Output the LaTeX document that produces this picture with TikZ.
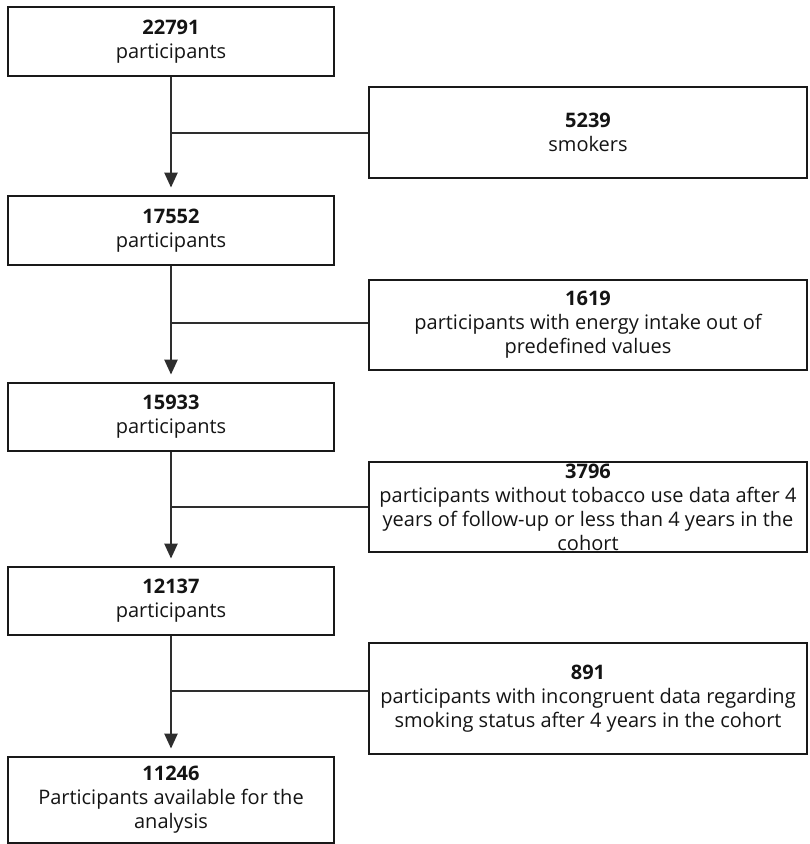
\documentclass[tikz,border=0pt]{standalone}
\usepackage{fontspec}
\setmainfont{Open Sans}
\usetikzlibrary{arrows.meta}
\begin{document}
\begin{tikzpicture}[x=1pt,y=-1pt,
  every node/.style={font=\fontsize{20}{24}\selectfont, text=black!92},
  mainbox/.style={draw=black!90, line width=2.8pt, minimum width=326pt, inner sep=0pt, align=center},
  sidebox/.style={draw=black!90, line width=2.8pt, minimum width=438pt, inner sep=0pt, align=center},
  txt/.style={align=center, inner sep=0pt},
  flow/.style={draw=black!82, line width=2.4pt, -{Triangle[width=13pt,length=15pt]}, shorten >=7pt},
  branch/.style={draw=black!82, line width=1.8pt}]
\useasboundingbox (0,0) rectangle (810,844);
% main column
\node[mainbox, minimum height=69pt] (b1) at (171,41.5) {{\bfseries 22791}\\participants};
\node[mainbox, minimum height=69pt] (b2) at (171,230.5) {{\bfseries 17552}\\participants};
\node[mainbox, minimum height=68pt] (b3) at (171,417) {{\bfseries 15933}\\participants};
\node[mainbox, minimum height=68pt] (b4) at (171,601) {{\bfseries 12137}\\participants};
\node[mainbox, minimum height=86pt] (b5) at (171,800) {{\bfseries 11246}\\Participants available for the\\analysis};
% side boxes
\node[sidebox, minimum height=91pt] (s1) at (588,132.5) {{\bfseries 5239}\\smokers};
\node[sidebox, minimum height=90pt] (s2) at (588,325) {{\bfseries 1619}\\participants with energy intake out of\\predefined values};
\node[sidebox, minimum height=90pt] (s3) at (588,507) {};
\node[txt] (s3t) at (s3.center) {{\bfseries 3796}\\participants without tobacco use data after 4\\years of follow-up or less than 4 years in the\\cohort};
\node[sidebox, minimum height=111pt] (s4) at (588,698.5) {{\bfseries 891}\\participants with incongruent data regarding\\smoking status after 4 years in the cohort};
% arrows
\draw[flow] (b1.south) -- (b2.north);
\draw[flow] (b2.south) -- (b3.north);
\draw[flow] (b3.south) -- (b4.north);
\draw[flow] (b4.south) -- (b5.north);
% branches
\coordinate (m1) at (171,133);
\coordinate (m2) at (171,323);
\coordinate (m3) at (171,507);
\coordinate (m4) at (171,691);
\draw[branch] (m1) -- (m1 -| s1.west);
\draw[branch] (m2) -- (m2 -| s2.west);
\draw[branch] (m3) -- (m3 -| s3.west);
\draw[branch] (m4) -- (m4 -| s4.west);
\end{tikzpicture}
\end{document}
